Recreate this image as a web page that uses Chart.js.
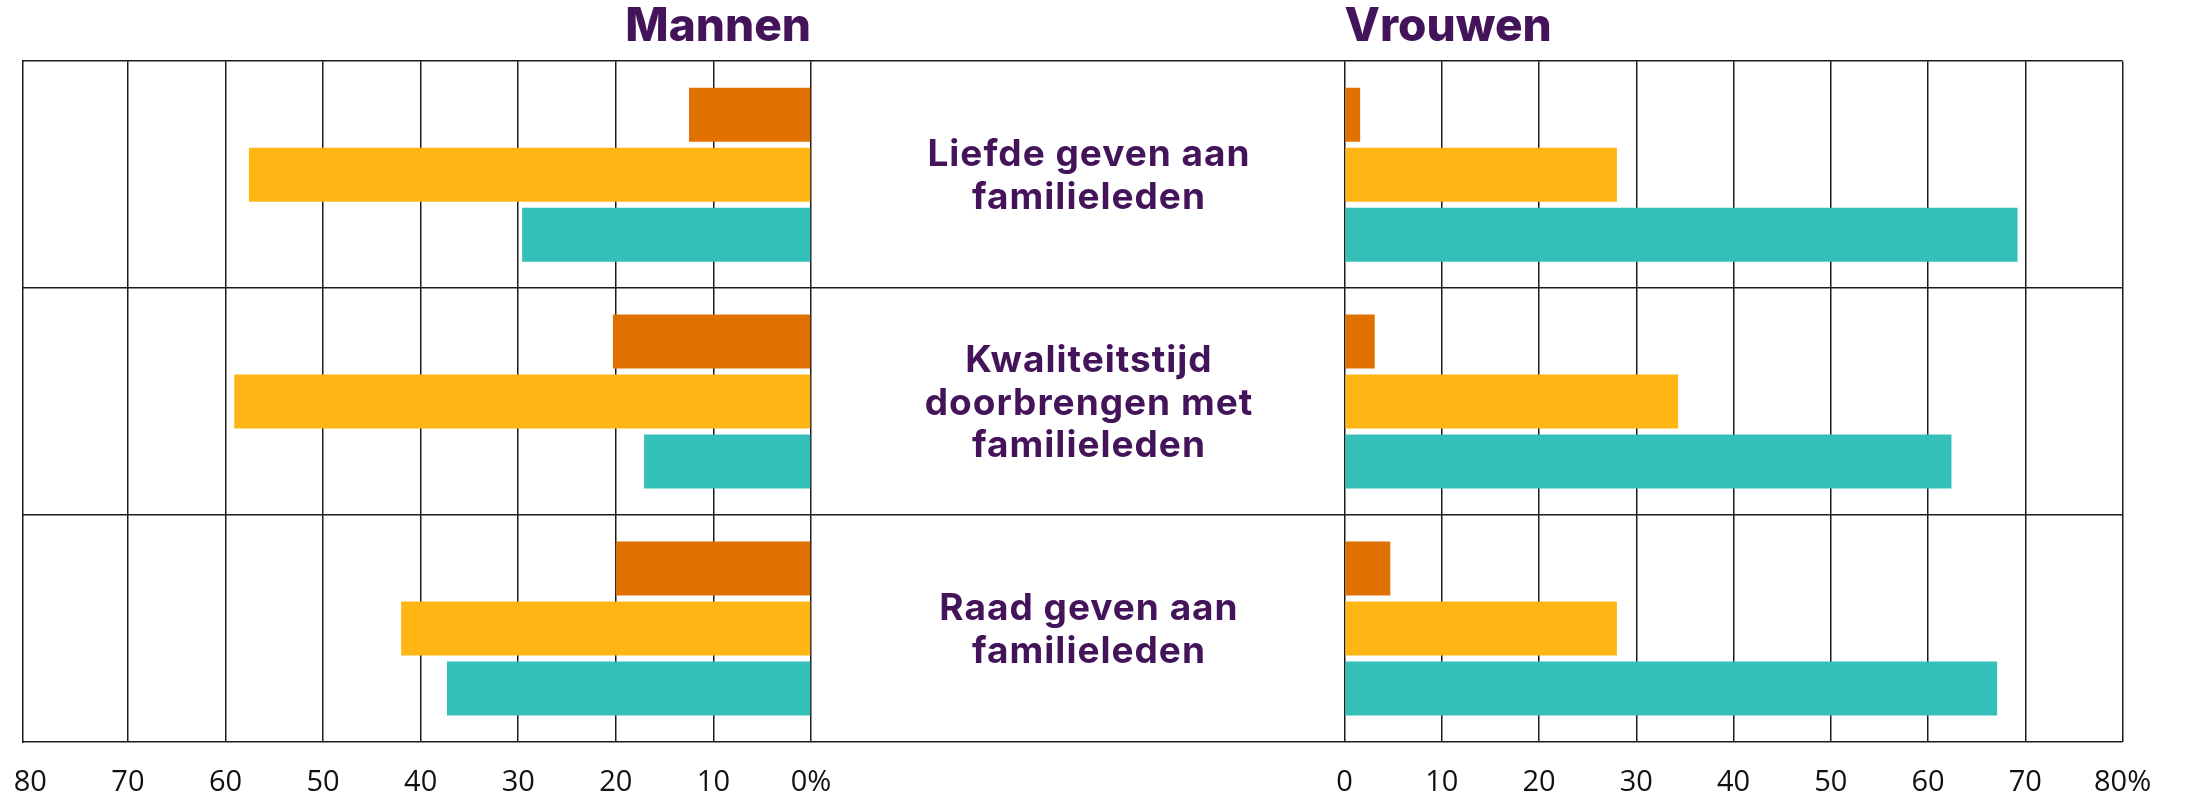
<!DOCTYPE html>
<html>
<head>
<meta charset="utf-8">
<script src="https://cdn.jsdelivr.net/npm/chart.js@4.4.0/dist/chart.umd.min.js"></script>
<style>
  body { margin: 0; background: #fff; width: 2209px; height: 798px; overflow: hidden; position: relative; }
  #mannen { position: absolute; left: 0; top: 0; }
  #vrouwen { position: absolute; left: 1300px; top: 0; }
</style>
</head>
<body>
<canvas id="mannen" width="1345" height="798"></canvas>
<canvas id="vrouwen" width="909" height="798"></canvas>
<script>
// categories (multi-line labels)
const categories = [
  ['Liefde geven aan', 'familieleden'],
  ['Kwaliteitstijd', 'doorbrengen met', 'familieleden'],
  ['Raad geven aan', 'familieleden']
];

// Mannen (left side)
const mannenOranje = [12.5, 20.3, 20.0];
const mannenGeel = [57.6, 59.1, 42.0];
const mannenTurkoois = [29.6, 17.1, 37.3];

// Vrouwen (right side)
const vrouwenOranje = [1.6, 3.1, 4.7];
const vrouwenGeel = [28.0, 34.3, 28.0];
const vrouwenTurkoois = [69.2, 62.4, 67.1];

const axisMin = 0;
const axisMax = 80;
const axisStep = 10;
const mannenFrameMax = 80.8; // the frame on the left sits a little past the 80 line

const oranje = '#e07000';
const geel = '#ffb514';
const turkoois = '#34bfb8';
const paars = '#43145a';
const lijn = '#1c1c1c';

const tickFont = { family: 'Open Sans', size: 29 };
const titleFont = { family: 'Inter', size: 46, weight: '800' };

function datasets(a, b, c) {
  return [
    { label: 'oranje', data: a, backgroundColor: oranje },
    { label: 'geel', data: b, backgroundColor: geel },
    { label: 'turkoois', data: c, backgroundColor: turkoois }
  ];
}

// keep the x axis compact: fixed height, no extra side padding for the end labels
function xAfterFit(scale) {
  scale.height = 56;
  scale.paddingLeft = 0;
  scale.paddingRight = 0;
}

// category labels centred in the middle column (the left chart's y axis area)
const middenLabels = {
  id: 'middenLabels',
  afterDraw(chart) {
    const ctx = chart.ctx;
    const y = chart.scales.y;
    const cx = y.left + y.width / 2 + 11;
    const lh = 42.5;
    ctx.save();
    ctx.font = '700 37px Inter';
    ctx.letterSpacing = '1px';
    ctx.fillStyle = paars;
    ctx.textAlign = 'center';
    ctx.textBaseline = 'alphabetic';
    chart.data.labels.forEach((lines, i) => {
      const cy = y.getPixelForValue(i);
      lines.forEach((line, j) => {
        ctx.fillText(line, cx, cy + (j - (lines.length - 1) / 2) * lh + 13);
      });
    });
    ctx.restore();
  }
};

const common = {
  indexAxis: 'y',
  responsive: false,
  animation: false,
  datasets: { bar: { barPercentage: 0.9, categoryPercentage: 0.793, borderWidth: 0 } },
};

// create the Mannen chart
new Chart(document.getElementById('mannen'), {
  type: 'bar',
  data: { labels: categories, datasets: datasets(mannenOranje, mannenGeel, mannenTurkoois) },
  options: {
    ...common,
    layout: { padding: { left: 22.5, right: 0, top: 0, bottom: 0 } },
    plugins: {
      legend: { display: false },
      tooltip: { enabled: false },
      title: {
        display: true, text: 'Mannen', align: 'end', fullSize: false,
        color: paars, font: titleFont, padding: { top: 0, bottom: 6 }
      }
    },
    scales: {
      x: {
        reverse: true, min: axisMin, max: mannenFrameMax, z: 1,
        afterFit: xAfterFit,
        ticks: {
          stepSize: axisStep, includeBounds: false, color: '#111', font: tickFont, padding: 23,
          autoSkip: false, maxRotation: 0,
          callback: v => v === 0 ? '0%' : v
        },
        // the 80 line merges with the frame edge in the original
        grid: {
          color: c => c.tick && c.tick.value === axisMax ? 'rgba(0,0,0,0)' : lijn,
          lineWidth: 1.5, drawTicks: false
        },
        border: { display: false }
      },
      y: {
        position: 'right',
        ticks: { display: false },
        grid: { color: lijn, lineWidth: 1.5, drawTicks: true, tickLength: 534 },
        border: { display: false }
      },
      // only used for the left edge of the frame
      frame: {
        type: 'category', axis: 'y', position: 'left',
        afterFit: s => { s.width = 0; },
        ticks: { display: false },
        grid: { display: false },
        border: { display: true, color: lijn, width: 1.5 }
      }
    }
  },
  plugins: [middenLabels]
});

// create the Vrouwen chart
new Chart(document.getElementById('vrouwen'), {
  type: 'bar',
  data: { labels: categories, datasets: datasets(vrouwenOranje, vrouwenGeel, vrouwenTurkoois) },
  options: {
    ...common,
    layout: { padding: { left: 44.6, right: 86.4, top: 0, bottom: 0 } },
    plugins: {
      legend: { display: false },
      tooltip: { enabled: false },
      title: {
        display: true, text: 'Vrouwen', align: 'start',
        color: paars, font: titleFont, padding: { top: 0, bottom: 6 }
      }
    },
    scales: {
      x: {
        min: axisMin, max: axisMax, z: 1,
        afterFit: xAfterFit,
        ticks: {
          stepSize: axisStep, color: '#111', font: tickFont, padding: 23,
          autoSkip: false, maxRotation: 0,
          callback: v => v === 80 ? '80%' : v
        },
        grid: { color: lijn, lineWidth: 1.5, drawTicks: false },
        border: { display: false }
      },
      y: {
        ticks: { display: false },
        grid: { color: lijn, lineWidth: 1.5, drawTicks: false },
        border: { display: false }
      }
    }
  }
});
</script>
</body>
</html>
